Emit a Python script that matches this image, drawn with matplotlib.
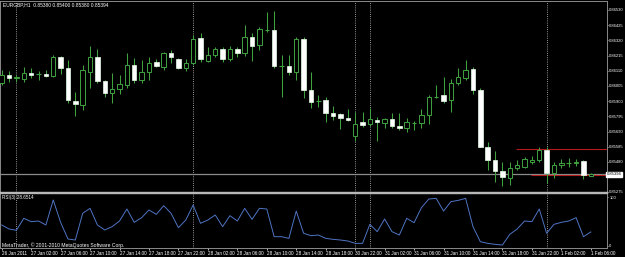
import matplotlib
matplotlib.use('Agg')
import matplotlib.pyplot as plt
from matplotlib import font_manager
import numpy as np

# ---------------- data ----------------
symbol_text = "EURGBP,H1  0.85380 0.85400 0.85380 0.85394"
copyright_text = "MetaTrader, \u00a9 2001-2010 MetaQuotes Software Corp."
rsi_label = "RSI(3) 28.6514"

opens = [0.86025, 0.86081, 0.86058, 0.86053, 0.86095, 0.86088, 0.86088, 0.86074, 0.86205, 0.86129,
         0.85901, 0.85873, 0.86101, 0.86205, 0.86039, 0.85956, 0.85984, 0.86012, 0.86150, 0.86046,
         0.86101, 0.86171, 0.86136, 0.86233, 0.86191, 0.86129, 0.86164, 0.86336, 0.86178, 0.86219,
         0.86260, 0.86191, 0.86260, 0.86233, 0.86343, 0.86288, 0.86392, 0.86392, 0.86143, 0.86143,
         0.86101, 0.86330, 0.85977, 0.85901, 0.85908, 0.85818, 0.85811, 0.85784, 0.85659, 0.85756,
         0.85742, 0.85770, 0.85749, 0.85777, 0.85728, 0.85714, 0.85749, 0.85749, 0.85804, 0.85929,
         0.85943, 0.85908, 0.86025, 0.86060, 0.86122, 0.85977, 0.85583, 0.85493, 0.85417, 0.85369,
         0.85438, 0.85445, 0.85479, 0.85493, 0.85562, 0.85403, 0.85459, 0.85472, 0.85472, 0.85486,
         0.85380]
highs = [0.86115, 0.86108, 0.86081, 0.86136, 0.86129, 0.86108, 0.86115, 0.86219, 0.86212, 0.86184,
         0.85963, 0.86150, 0.86281, 0.86260, 0.86046, 0.86095, 0.86081, 0.86233, 0.86198, 0.86184,
         0.86205, 0.86191, 0.86240, 0.86254, 0.86198, 0.86191, 0.86357, 0.86371, 0.86274, 0.86274,
         0.86274, 0.86281, 0.86274, 0.86426, 0.86371, 0.86412, 0.86516, 0.86523, 0.86219, 0.86219,
         0.86343, 0.86343, 0.86101, 0.85943, 0.85929, 0.85866, 0.85818, 0.85846, 0.85825, 0.85825,
         0.85853, 0.85790, 0.85784, 0.85818, 0.85818, 0.85784, 0.85763, 0.85846, 0.85943, 0.86012,
         0.86067, 0.86053, 0.86129, 0.86184, 0.86136, 0.85991, 0.85617, 0.85555, 0.85479, 0.85479,
         0.85493, 0.85514, 0.85519, 0.85583, 0.85583, 0.85479, 0.85500, 0.85507, 0.85500, 0.85493,
         0.85400]
lows = [0.86012, 0.86032, 0.86032, 0.86032, 0.86060, 0.86046, 0.86067, 0.86067, 0.86088, 0.85887,
        0.85797, 0.85839, 0.85991, 0.86025, 0.85929, 0.85887, 0.85950, 0.85991, 0.86025, 0.86025,
        0.86046, 0.86136, 0.86115, 0.86164, 0.86122, 0.86108, 0.86150, 0.86171, 0.86171, 0.86205,
        0.86171, 0.86178, 0.86205, 0.86212, 0.86178, 0.86254, 0.86378, 0.86129, 0.85929, 0.86081,
        0.86046, 0.85922, 0.85853, 0.85860, 0.85756, 0.85770, 0.85708, 0.85763, 0.85624, 0.85721,
        0.85728, 0.85624, 0.85714, 0.85714, 0.85701, 0.85687, 0.85701, 0.85714, 0.85742, 0.85922,
        0.85887, 0.85825, 0.86012, 0.86046, 0.85950, 0.85580, 0.85424, 0.85341, 0.85314, 0.85320,
        0.85424, 0.85438, 0.85466, 0.85479, 0.85334, 0.85369, 0.85438, 0.85445, 0.85452, 0.85362,
        0.85380]
closes = [0.86081, 0.86060, 0.86067, 0.86095, 0.86081, 0.86086, 0.86074, 0.86205, 0.86129, 0.85908,
          0.85880, 0.86115, 0.86205, 0.86039, 0.85956, 0.85984, 0.86019, 0.86150, 0.86046, 0.86101,
          0.86164, 0.86143, 0.86233, 0.86205, 0.86129, 0.86164, 0.86330, 0.86191, 0.86219, 0.86260,
          0.86191, 0.86260, 0.86233, 0.86343, 0.86281, 0.86399, 0.86391, 0.86143, 0.86142, 0.86101,
          0.86330, 0.85977, 0.85894, 0.85902, 0.85818, 0.85797, 0.85784, 0.85770, 0.85742, 0.85735,
          0.85777, 0.85756, 0.85777, 0.85728, 0.85714, 0.85756, 0.85748, 0.85804, 0.85929, 0.85930,
          0.85901, 0.86025, 0.86067, 0.86115, 0.85977, 0.85583, 0.85493, 0.85417, 0.85376, 0.85438,
          0.85459, 0.85500, 0.85493, 0.85562, 0.85403, 0.85459, 0.85472, 0.85471, 0.85482, 0.85388,
          0.85394]
rsi = [42.9, 34.7, 32.0, 56.5, 49.7, 51.0, 42.9, 93.9, 48.3, 14.3,
       12.2, 66.7, 76.9, 42.9, 32.7, 39.5, 51.0, 75.5, 48.3, 57.8,
       73.5, 64.6, 82.3, 66.7, 37.4, 53.0, 83.7, 46.3, 53.1, 63.3,
       39.5, 61.9, 51.0, 76.9, 54.4, 76.9, 75.5, 19.0, 19.0, 15.6,
       71.4, 25.9, 21.1, 22.4, 15.6, 13.6, 12.2, 10.2, 5.4, 5.4,
       44.2, 29.3, 55.1, 29.3, 22.4, 56.5, 47.6, 78.2, 95.9, 97.3,
       71.4, 90.5, 93.2, 97.3, 39.5, 8.8, 5.4, 3.4, 2.0, 23.8,
       34.7, 51.0, 49.7, 75.5, 25.9, 44.2, 48.3, 51.0, 57.8, 19.0,
       28.65]

time_tick_bars = list(range(0, 81, 4))
time_tick_labels = ["26 Jan 2011", "27 Jan 02:00", "27 Jan 06:00", "27 Jan 10:00", "27 Jan 14:00",
                    "27 Jan 18:00", "27 Jan 22:00", "28 Jan 02:00", "28 Jan 06:00", "28 Jan 10:00",
                    "28 Jan 14:00", "28 Jan 18:00", "30 Jan 22:00", "31 Jan 02:00", "31 Jan 06:00",
                    "31 Jan 10:00", "31 Jan 14:00", "31 Jan 18:00", "31 Jan 22:00", "1 Feb 02:00",
                    "1 Feb 06:00"]
price_tick_values = [0.86530, 0.86425, 0.86320, 0.86215, 0.86110, 0.86005, 0.85900,
                     0.85795, 0.85690, 0.85585, 0.85480, 0.85275]
price_tick_labels = ["0.86530", "0.86425", "0.86320", "0.86215", "0.86110", "0.86005", "0.85900",
                     "0.85795", "0.85690", "0.85585", "0.85480", "0.85275"]
current_price = 0.85394
current_label = "0.85394"
separator_bars = [2, 26, 48, 50, 74]
red_levels = [0.85567, 0.85392]
red_start_bars = [69.8, 71.9]

# ---------------- style ----------------
def pick_font(names):
    for n in names:
        try:
            font_manager.findfont(n, fallback_to_default=False)
            return n
        except Exception:
            pass
    return 'DejaVu Sans'

FONT = pick_font(['Liberation Sans Narrow', 'Liberation Sans', 'DejaVu Sans'])
plt.rcParams['font.family'] = [FONT, 'DejaVu Sans']

GREEN = '#3fa23f'
GRID_GRAY = '#8a8a8a'
SEP = '#b8b8b8'
RSI_BLUE = '#4f74c4'

W, H = 625, 257
fig = plt.figure(figsize=(W / 100, H / 100), dpi=100, facecolor='black')


def px_axes(x0, y0, x1, y1):
    return fig.add_axes([x0 / W, 1 - y1 / H, (x1 - x0) / W, (y1 - y0) / H])


ax = px_axes(0, 1, 607, 192)
ax2 = px_axes(0, 193, 607, 248)

o = np.array(opens); h = np.array(highs); l = np.array(lows); c = np.array(closes)
x = np.arange(len(o))
bw = 0.6
doji = np.abs(c - o) < 0.000025
bull = (c > o) & ~doji
bear = (c < o) & ~doji

for a in (ax, ax2):
    a.set_facecolor('black')
    a.set_xlim(-0.23, 82.2)
    for b in separator_bars:
        a.axvline(b, color='#c8c8c8', lw=0.6, ls=(0, (1, 1.6)), zorder=1)

ax.set_ylim(0.85272, 0.86592)
ax2.set_ylim(-4.1, 108.2)

# current bid line
ax.axhline(current_price, color='#8c8c8c', lw=0.9, zorder=1.5)
# red user lines
for lv, st in zip(red_levels, red_start_bars):
    ax.hlines(lv, st, 82.2, color='#b41c1c', lw=0.8, zorder=1.6)

# candles
ax.vlines(x, l, h, color=GREEN, lw=0.75, zorder=2)
ax.bar(x[bull], (c - o)[bull], bottom=o[bull], width=bw, facecolor='black',
       edgecolor=GREEN, linewidth=0.7, zorder=3)
ax.bar(x[bear], (o - c)[bear], bottom=c[bear], width=bw, facecolor='white',
       edgecolor='#e8ffe8', linewidth=0.5, zorder=3)
ax.hlines(o[doji], x[doji] - bw / 2, x[doji] + bw / 2, color=GREEN, lw=0.8, zorder=3)

# RSI
ax2.plot(x, rsi, color=RSI_BLUE, lw=0.7, zorder=3)

# spines
for a in (ax, ax2):
    for s in a.spines.values():
        s.set_color(GRID_GRAY)
        s.set_linewidth(0.7)
ax.spines['bottom'].set_color(SEP)
ax.spines['bottom'].set_linewidth(1.0)
ax2.spines['top'].set_color(SEP)
ax2.spines['top'].set_linewidth(1.0)

# price axis
ax.yaxis.tick_right()
ax.set_yticks(price_tick_values, price_tick_labels)
ax.tick_params(axis='y', colors='white', labelsize=3.0, length=1.0, width=0.5, pad=0.6)
ax.set_xticks([])
ax.text(1.0, current_price, current_label, transform=ax.get_yaxis_transform(),
        ha='left', va='center', fontsize=3.0, color='black', zorder=10, clip_on=False,
        bbox=dict(boxstyle='square,pad=0.15', fc='white', ec='white'))

# RSI axis
ax2.yaxis.tick_right()
ax2.set_yticks([100, 0], ['100', '0'])
ax2.tick_params(axis='y', colors='white', labelsize=3.0, length=1.0, width=0.5, pad=0.6)
ax2.set_xticks(time_tick_bars, time_tick_labels)
ax2.tick_params(axis='x', colors='white', labelsize=3.3, length=1.5, width=0.5, pad=0.6)
for lbl in ax2.get_xticklabels():
    lbl.set_ha('left')

# texts
fig.text(3 / W, 1 - 5 / H, symbol_text, color='white', fontsize=3.5, ha='left', va='center')
ax2.text(0.004, 0.92, rsi_label, transform=ax2.transAxes, color='white', fontsize=3.3,
         ha='left', va='center')
ax2.text(0.004, 0.06, copyright_text, transform=ax2.transAxes, color='white', fontsize=3.6,
         ha='left', va='center')

fig.savefig('out.png', dpi=100, facecolor='black')
